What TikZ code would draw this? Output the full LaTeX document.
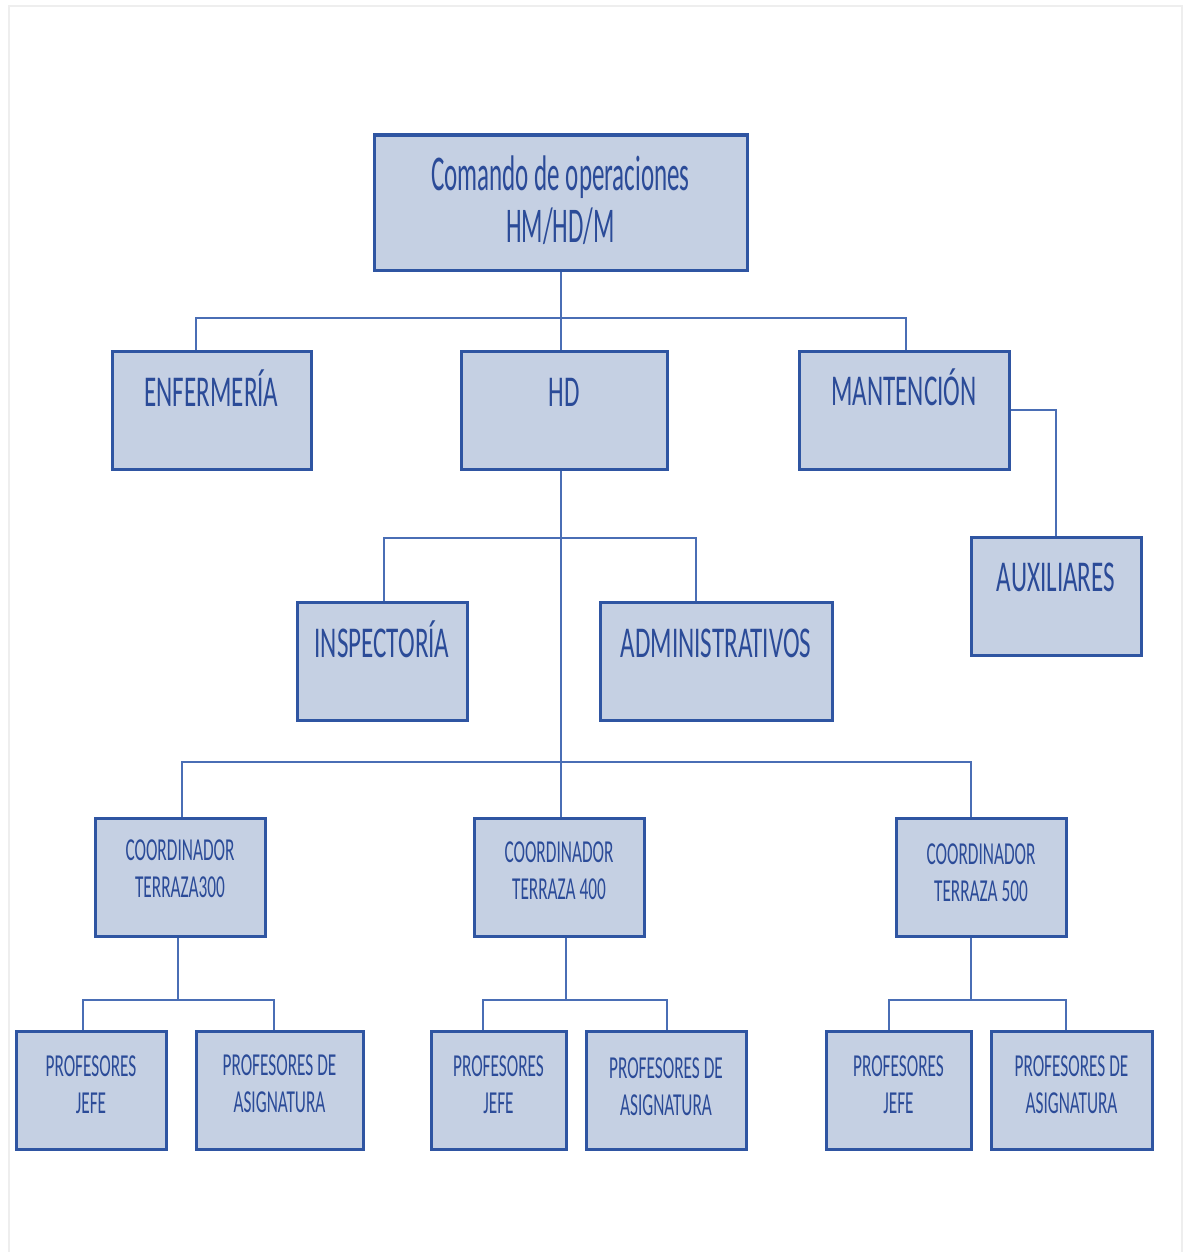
\documentclass[tikz,border=0pt]{standalone}
\usepackage{fontspec}
\setmainfont{Carlito}[FakeStretch=0.53]
\newfontfamily\bigfam{Carlito}[FakeStretch=0.50]
\newfontfamily\midfam{Carlito}[FakeStretch=0.57]
\newfontfamily\smallfam{Carlito}[FakeStretch=0.54]
\usetikzlibrary{fit,backgrounds}
\definecolor{boxfill}{HTML}{C5D0E3}
\definecolor{boxline}{HTML}{2F55A2}
\definecolor{txtcol}{HTML}{2B4B98}
\definecolor{conncol}{HTML}{4A6EB5}
\definecolor{framecol}{HTML}{EEEEEE}
\tikzset{
  orgbox/.style={draw=boxline, fill=boxfill, line width=1.5pt, inner sep=0pt, rectangle},
  conn/.style={draw=conncol, line width=1pt},
  bigtxt/.style={text=txtcol, font=\bigfam\fontsize{25}{26}\selectfont, anchor=base, align=center, inner sep=0pt},
  midtxt/.style={text=txtcol, font=\midfam\fontsize{22}{24}\selectfont, anchor=base, align=center, inner sep=0pt},
  smalltxt/.style={text=txtcol, font=\smallfam\fontsize{16}{18.5}\selectfont, anchor=base, align=center, inner sep=0pt},
}
\begin{document}
\begin{tikzpicture}[x=0.5pt,y=-0.5pt]
\useasboundingbox (0,0) rectangle (1184,1252);

% boxes
\node[orgbox, fit={(374,135)(747,270)}] (top) {};
\node[orgbox, fit={(112,351)(311,469)}] (enf) {};
\node[orgbox, fit={(461,351)(667,469)}] (hd) {};
\node[orgbox, fit={(799,351)(1009,469)}] (mant) {};
\node[orgbox, fit={(971,537)(1141,655)}] (aux) {};
\node[orgbox, fit={(297,602)(467,720)}] (insp) {};
\node[orgbox, fit={(600,602)(832,720)}] (adm) {};
\node[orgbox, fit={(95,818)(265,936)}] (c3) {};
\node[orgbox, fit={(474,818)(644,936)}] (c4) {};
\node[orgbox, fit={(896,818)(1066,936)}] (c5) {};
\node[orgbox, fit={(16,1031)(166,1149)}] (pj1) {};
\node[orgbox, fit={(196,1031)(363,1149)}] (pa1) {};
\node[orgbox, fit={(431,1031)(566,1149)}] (pj2) {};
\node[orgbox, fit={(586,1031)(746,1149)}] (pa2) {};
\node[orgbox, fit={(826,1031)(971,1149)}] (pj3) {};
\node[orgbox, fit={(991,1031)(1152,1149)}] (pa3) {};

% texts (base anchor = baseline of last line)
\node[bigtxt] (ttop) at (top.center |- 0,242) {Comando de operaciones\\HM/HD/M};
\node[midtxt] (tenf) at (enf.center |- 0,406) {ENFERMERÍA};
\node[midtxt] (thd) at (hd.center |- 0,406) {HD};
\node[midtxt] (tmant) at (mant.center |- 0,405) {MANTENCIÓN};
\node[midtxt] (taux) at (aux.center |- 0,591) {AUXILIARES};
\node[midtxt] (tinsp) at (insp.center |- 0,657) {INSPECTORÍA};
\node[midtxt] (tadm) at (adm.center |- 0,657) {ADMINISTRATIVOS};
\node[smalltxt] (tc3) at (c3.center |- 0,897) {COORDINADOR\\TERRAZA300};
\node[smalltxt] (tc4) at (c4.center |- 0,899) {COORDINADOR\\TERRAZA 400};
\node[smalltxt] (tc5) at (c5.center |- 0,901) {COORDINADOR\\TERRAZA 500};
\node[smalltxt] (tpj1) at (pj1.center |- 0,1113) {PROFESORES\\JEFE};
\node[smalltxt] (tpa1) at (pa1.center |- 0,1112) {PROFESORES DE\\ASIGNATURA};
\node[smalltxt] (tpj2) at (pj2.center |- 0,1113) {PROFESORES\\JEFE};
\node[smalltxt] (tpa2) at (pa2.center |- 0,1115) {PROFESORES DE\\ASIGNATURA};
\node[smalltxt] (tpj3) at (pj3.center |- 0,1113) {PROFESORES\\JEFE};
\node[smalltxt] (tpa3) at (pa3.center |- 0,1113) {PROFESORES DE\\ASIGNATURA};

% frame and connectors
\begin{scope}[on background layer]
\fill[white] (0,0) rectangle (1184,1252);
\draw[framecol, line width=1pt] (9,6) rectangle (1182,1262);
\draw[conn] (top.south) -- (top.south |- c4.north);
\draw[conn] (196,0 |- enf.north) -- (196,318) -- (906,318) -- (906,0 |- mant.north);
\draw[conn] (384,0 |- insp.north) -- (384,538) -- (696,538) -- (696,0 |- adm.north);
\draw[conn] (182,0 |- c3.north) -- (182,762) -- (971,762) -- (971,0 |- c5.north);
\draw[conn] (mant.east |- 0,410) -- (1056,410) -- (1056,0 |- aux.north);
\draw[conn] (178,0 |- c3.south) -- (178,1000);
\draw[conn] (83,0 |- pj1.north) -- (83,1000) -- (274,1000) -- (274,0 |- pa1.north);
\draw[conn] (566,0 |- c4.south) -- (566,1000);
\draw[conn] (483,0 |- pj2.north) -- (483,1000) -- (667,1000) -- (667,0 |- pa2.north);
\draw[conn] (971,0 |- c5.south) -- (971,1000);
\draw[conn] (889,0 |- pj3.north) -- (889,1000) -- (1066,1000) -- (1066,0 |- pa3.north);
\end{scope}
\end{tikzpicture}
\end{document}
